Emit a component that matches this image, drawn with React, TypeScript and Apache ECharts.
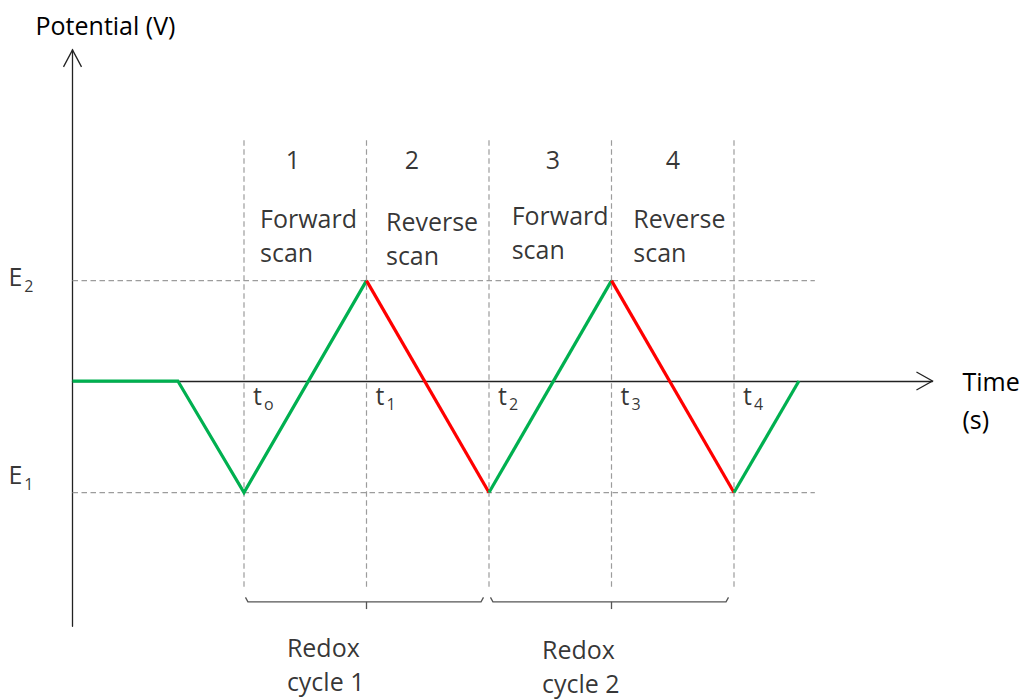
import React, { useEffect, useRef } from "react";
import * as echarts from "echarts";

const FONT = "'Open Sans', sans-serif";
const INK = "#000000";
const GUIDE = "#9c9c9c";
const FORWARD = "#00b050";
const REVERSE = "#ff0000";

// Axis extents (time in half-cycle units, potential relative to the rest level)
const X_MIN = -1.4;
const X_MAX = 5.62;
const Y_MIN = -2.2;
const Y_MAX = 2.97;

// Potential waveform vertices
const waveTime = [-1.4, -0.54, 0, 1, 2, 3, 4, 4.53];
const wavePotential = [0, 0, -1, 0.9, -1, 0.9, -1, 0];
// Scan type of each segment between consecutive vertices
const segmentScan = ["forward", "forward", "forward", "reverse", "forward", "reverse", "forward"];

// Switching potentials
const levelValues = [0.9, -1];
const levelSubs = ["2", "1"];
const levelLabelShift = [-2, -16];
const levelGuideEnd = 4.66;

// Switching times t0..t4
const switchTimes = [0, 1, 2, 3, 4];
const switchSubs = ["o", "1", "2", "3", "4"];
const switchGuideTop = 2.16;
const switchGuideBottom = -1.86;

// Scan phases
const phaseNumbers = ["1", "2", "3", "4"];
const phaseNumberTime = [0.4, 1.371, 2.522, 3.502];
const phaseNumberLevel = 1.99;
const scanLabels = ["Forward\nscan", "Reverse\nscan", "Forward\nscan", "Reverse\nscan"];
const scanLabelTime = [0.131, 1.159, 2.185, 3.178];
const scanLabelLevel = [1.314, 1.28, 1.34, 1.31];

// Redox cycles
const cycleNames = ["Redox\ncycle 1", "Redox\ncycle 2"];
const cycleStart = [0, 2];
const cycleEnd = [2, 4];
const cycleLabelTime = [0.35, 2.433];
const cycleLabelLevel = [-2.534, -2.56];
const bracketLevel = -1.98;

const richSub = {
  m: { fontFamily: FONT, fontSize: 25, color: INK, lineHeight: 30, verticalAlign: "top" },
  s: { fontFamily: FONT, fontSize: 16, color: INK, lineHeight: 16, verticalAlign: "bottom", padding: [0, 0, 0, 2] },
};

function lineSeries(points: number[][], color: string, width: number, type: any, z = 2) {
  return {
    type: "line",
    data: points,
    symbol: "none",
    silent: true,
    z,
    lineStyle: { color, width, type, cap: "butt", join: "miter" },
  };
}

function buildOption() {
  const series: any[] = [];

  // Dashed guides at the switching potentials
  levelValues.forEach((v) => {
    series.push(lineSeries([[X_MIN, v], [levelGuideEnd, v]], GUIDE, 1.2, [5.5, 3.5], 1));
  });
  // Dashed guides at the switching times
  switchTimes.forEach((t) => {
    series.push(lineSeries([[t, switchGuideTop], [t, switchGuideBottom]], GUIDE, 1.2, [5.5, 3.5], 1));
  });

  // Waveform, split into runs of equal scan type
  let runStart = 0;
  for (let i = 1; i <= segmentScan.length; i++) {
    if (i === segmentScan.length || segmentScan[i] !== segmentScan[runStart]) {
      const pts: number[][] = [];
      for (let k = runStart; k <= i; k++) pts.push([waveTime[k], wavePotential[k]]);
      series.push(lineSeries(pts, segmentScan[runStart] === "reverse" ? REVERSE : FORWARD, 3.2, "solid", 3));
      runStart = i;
    }
  }

  // Cycle brackets
  cycleStart.forEach((s, i) => {
    const a = s + 0.012;
    const b = cycleEnd[i] - 0.045;
    const mid = (s + cycleEnd[i]) / 2;
    series.push(
      lineSeries(
        [[a, bracketLevel + 0.04], [a + 0.02, bracketLevel], [b - 0.02, bracketLevel], [b, bracketLevel + 0.04]],
        "#555555",
        1.3,
        "solid",
        2
      )
    );
    series.push(lineSeries([[mid, bracketLevel], [mid, bracketLevel - 0.065]], "#555555", 1.3, "solid", 2));
  });

  // Text annotations placed in data coordinates
  const notes: any[] = [];
  const plain = { fontFamily: FONT, fontSize: 25, color: INK, lineHeight: 34 };
  levelValues.forEach((v, i) => {
    notes.push({
      value: [X_MIN, v],
      label: {
        formatter: `{m|E}{s|${levelSubs[i]}}`,
        align: "right",
        verticalAlign: "middle",
        offset: [-39, levelLabelShift[i]],
        rich: richSub,
      },
    });
  });
  switchTimes.forEach((t, i) => {
    notes.push({
      value: [t, 0],
      label: {
        formatter: `{m|t}{s|${switchSubs[i]}}`,
        align: "left",
        verticalAlign: "middle",
        offset: [9, 16],
        rich: richSub,
      },
    });
  });
  phaseNumbers.forEach((n, i) => {
    notes.push({
      value: [phaseNumberTime[i], phaseNumberLevel],
      label: { formatter: n, align: "center", verticalAlign: "middle", ...plain },
    });
  });
  scanLabels.forEach((s, i) => {
    notes.push({
      value: [scanLabelTime[i], scanLabelLevel[i]],
      label: { formatter: s, align: "left", verticalAlign: "middle", ...plain },
    });
  });
  cycleNames.forEach((s, i) => {
    notes.push({
      value: [cycleLabelTime[i], cycleLabelLevel[i]],
      label: { formatter: s, align: "left", verticalAlign: "middle", ...plain },
    });
  });

  series.push({
    type: "scatter",
    data: notes,
    symbolSize: 1,
    clip: false,
    silent: true,
    z: 5,
    itemStyle: { color: "rgba(0,0,0,0)" },
    label: { show: true, position: "inside" },
  });

  return {
    animation: false,
    backgroundColor: "#ffffff",
    grid: {
      left: 72.5,
      top: 49.85,
      width: 859.95,
      height: 576.5,
      containLabel: false,
      outerBoundsMode: "none",
    },
    xAxis: {
      type: "value",
      min: X_MIN,
      max: X_MAX,
      // leading blank line keeps "Time" level with the axis and "(s)" below it
      name: "\nTime\n(s)",
      nameLocation: "end",
      nameGap: 30,
      nameTextStyle: {
        fontFamily: FONT,
        fontSize: 25,
        color: INK,
        lineHeight: 38,
        align: "left",
        verticalAlign: "middle",
      },
      axisLine: { show: true, onZero: true, lineStyle: { color: "#222222", width: 1.3 } },
      axisTick: { show: false },
      axisLabel: { show: false },
      splitLine: { show: false },
    },
    yAxis: {
      type: "value",
      min: Y_MIN,
      max: Y_MAX,
      name: "Potential (V)",
      nameLocation: "end",
      nameGap: 25,
      nameTextStyle: {
        fontFamily: FONT,
        fontSize: 25,
        color: INK,
        align: "center",
        verticalAlign: "middle",
        padding: [0, 0, 0, 66],
      },
      axisLine: { show: true, onZero: false, lineStyle: { color: "#222222", width: 1.3 } },
      axisTick: { show: false },
      axisLabel: { show: false },
      splitLine: { show: false },
    },
    series,
  };
}

export default function App() {
  const ref = useRef<HTMLDivElement>(null);

  useEffect(() => {
    if (!ref.current) return;
    const chart = echarts.init(ref.current, undefined, { renderer: "svg" });
    chart.setOption(buildOption() as any);

    // Open chevron arrowheads at the axis ends
    const xTip = chart.convertToPixel({ gridIndex: 0 }, [X_MAX, 0]) as number[];
    const yTip = chart.convertToPixel({ gridIndex: 0 }, [X_MIN, Y_MAX]) as number[];
    const arrowStyle = { stroke: "#222222", lineWidth: 1.3, fill: null };
    chart.setOption({
      graphic: [
        {
          type: "polyline",
          silent: true,
          shape: { points: [[xTip[0] - 16, xTip[1] - 9], [xTip[0], xTip[1]], [xTip[0] - 16, xTip[1] + 9]] },
          style: arrowStyle,
        },
        {
          type: "polyline",
          silent: true,
          shape: { points: [[yTip[0] - 9, yTip[1] + 17], [yTip[0], yTip[1]], [yTip[0] + 9, yTip[1] + 17]] },
          style: arrowStyle,
        },
      ],
    });

    return () => chart.dispose();
  }, []);

  return (
    <div
      ref={ref}
      style={{ position: "fixed", left: 0, top: 0, width: 1022, height: 700, background: "#ffffff" }}
    />
  );
}
